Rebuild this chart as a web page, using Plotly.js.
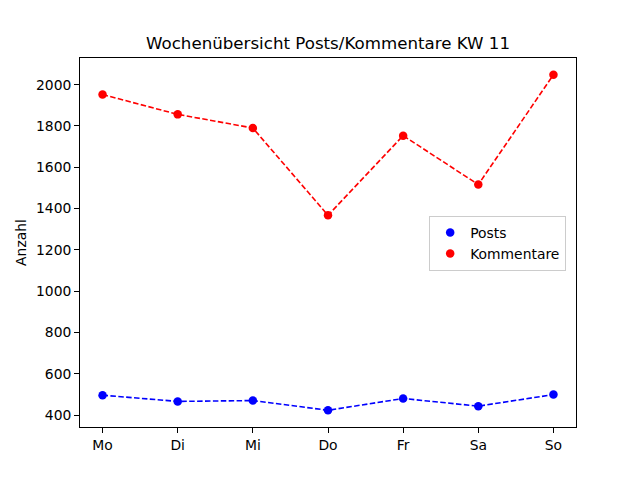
<!DOCTYPE html>
<html>
<head>
<meta charset="utf-8">
<script src="https://cdn.plot.ly/plotly-3.0.1.min.js"></script>
<style>html,body{margin:0;padding:0;background:#fff;}#chart{width:640px;height:480px;}</style>
</head>
<body>
<div id="chart"></div>
<script>
const days = ["Mo", "Di", "Mi", "Do", "Fr", "Sa", "So"];
const posts = [496, 466, 470, 423, 480, 443, 499];
const kommentare = [1952, 1856, 1790, 1367, 1753, 1516, 2048];
const yTicks = [400, 600, 800, 1000, 1200, 1400, 1600, 1800, 2000];

const dash = "5.5px,2.4px";
const FONT = "DejaVu Sans, sans-serif";
const FS = 13.89;

const traces = [
  {x: days, y: posts, mode: "lines", line: {color: "#0000ff", width: 1.6, dash: dash}, showlegend: false, hoverinfo: "skip"},
  {x: days, y: kommentare, mode: "lines", line: {color: "#ff0000", width: 1.6, dash: dash}, showlegend: false, hoverinfo: "skip"},
  {x: days, y: posts, mode: "markers", name: "Posts", marker: {color: "#0000ff", size: 8.5}},
  {x: days, y: kommentare, mode: "markers", name: "Kommentare", marker: {color: "#ff0000", size: 8.5}}
];

const layout = {
  width: 640, height: 480,
  paper_bgcolor: "#ffffff", plot_bgcolor: "#ffffff",
  font: {family: FONT, size: FS, color: "#000000"},
  margin: {l: 80, r: 64, t: 57.6, b: 52.8, pad: 0},
  title: {text: "Wochenübersicht Posts/Kommentare KW 11", font: {family: FONT, size: 16.67, color: "#000"}, x: 0.5, xanchor: "center", y: 1 - 43/480, yanchor: "middle", xref: "paper"},
  xaxis: {
    type: "category", range: [-0.3, 6.3], showgrid: false, zeroline: false,
    showline: true, linecolor: "#000", linewidth: 1, mirror: true,
    ticks: "outside", ticklen: 4.9, tickcolor: "#000", tickwidth: 1,
    tickfont: {family: FONT, size: FS, color: "#000"}
  },
  yaxis: {
    range: [342, 2129], showgrid: false, zeroline: false,
    showline: true, linecolor: "#000", linewidth: 1, mirror: true,
    ticks: "outside", ticklen: 4.9, tickcolor: "#000", tickwidth: 1,
    tickvals: yTicks, ticktext: yTicks.map(String),
    tickfont: {family: FONT, size: FS, color: "#000"},
    title: {text: "Anzahl", font: {family: FONT, size: FS, color: "#000"}, standoff: 6}
  },
  legend: {
    x: 0.704, xanchor: "left", y: 0.572, yanchor: "top",
    bgcolor: "rgba(255,255,255,0.8)", bordercolor: "#cccccc", borderwidth: 1,
    font: {family: FONT, size: FS, color: "#000"},
    tracegroupgap: 0, itemwidth: 30
  },
  showlegend: true
};

Plotly.newPlot("chart", traces, layout, {displayModeBar: false, staticPlot: true});
</script>
</body>
</html>
